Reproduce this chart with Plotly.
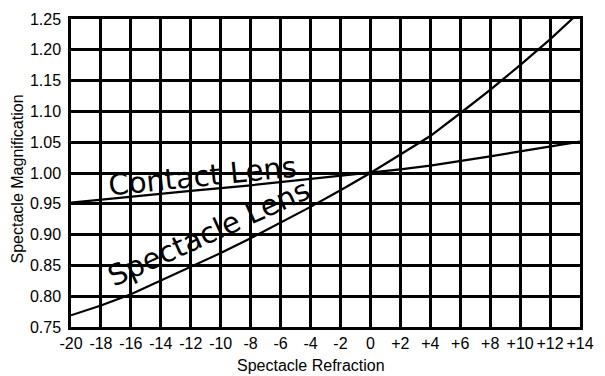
import plotly.graph_objects as go

# Data
refraction = [-20, -18, -16, -14, -12, -10, -8, -6, -4, -2, 0, 2, 4, 6, 8, 10, 12, 14]
spectacle_lens = [0.769, 0.785, 0.803, 0.825, 0.848, 0.870, 0.894, 0.919, 0.945, 0.972,
                  1.000, 1.030, 1.060, 1.097, 1.135, 1.175, 1.217, 1.262]
contact_refr = [-20, -16, -12, -8, -4, 0, 2, 4, 6, 8, 10, 12, 14]
contact_lens = [0.952, 0.962, 0.971, 0.980, 0.990, 1.000, 1.006, 1.012, 1.019, 1.027, 1.035, 1.043, 1.051]

x_tickvals = list(range(-20, 15, 2))
x_ticktext = [("+%d" % v if v > 0 else "%d" % v) for v in x_tickvals]
y_tickvals = [0.75, 0.80, 0.85, 0.90, 0.95, 1.00, 1.05, 1.10, 1.15, 1.20, 1.25]
y_ticktext = ["%.2f" % v for v in y_tickvals]

fig = go.Figure()
fig.add_trace(go.Scatter(x=refraction, y=spectacle_lens, mode="lines",
                         line=dict(color="black", width=2.2), name="Spectacle Lens",
                         showlegend=False))
fig.add_trace(go.Scatter(x=contact_refr, y=contact_lens, mode="lines",
                         line=dict(color="black", width=2.2), name="Contact Lens",
                         showlegend=False))

tick_font = dict(family="Liberation Sans, Arial, sans-serif", size=16, color="black")
title_font = dict(family="Liberation Sans, Arial, sans-serif", size=16, color="black")
hand_font = dict(family="DejaVu Sans, sans-serif", size=29, color="black")

fig.update_layout(
    width=605, height=376,
    margin=dict(l=71, r=11, t=19, b=49),
    paper_bgcolor="white", plot_bgcolor="white",
    xaxis=dict(range=[-20, 14], tickvals=x_tickvals, ticktext=x_ticktext,
               showgrid=True, gridcolor="black", gridwidth=2.5, zeroline=False,
               showline=True, mirror=True, linecolor="black", linewidth=2.5,
               ticks="", ticklabelstandoff=0, tickfont=tick_font),
    yaxis=dict(range=[0.75, 1.25], tickvals=y_tickvals, ticktext=y_ticktext,
               showgrid=True, gridcolor="black", gridwidth=2.5, zeroline=False,
               showline=True, mirror=True, linecolor="black", linewidth=2.5,
               ticks="", ticklabelstandoff=4, tickfont=tick_font),
    annotations=[
        dict(text="Spectacle Refraction", xref="paper", yref="paper",
             x=(318 - 71) / 523, y=-(365 - 327) / 308, xanchor="center", yanchor="middle",
             showarrow=False, font=title_font),
        dict(text="Spectacle Magnification", xref="paper", yref="paper",
             x=-(71 - 17) / 523, y=(327 - 179) / 308, xanchor="center", yanchor="middle",
             textangle=-90, showarrow=False, font=title_font),
        dict(text="Contact Lens", x=-11.2, y=0.995, xref="x", yref="y",
             textangle=-5.8, showarrow=False, font=hand_font),
        dict(text="Spectacle Lens", x=-10.8, y=0.902, xref="x", yref="y",
             textangle=-24.4, showarrow=False, font=hand_font),
    ],
)

fig.write_html("out.html")
